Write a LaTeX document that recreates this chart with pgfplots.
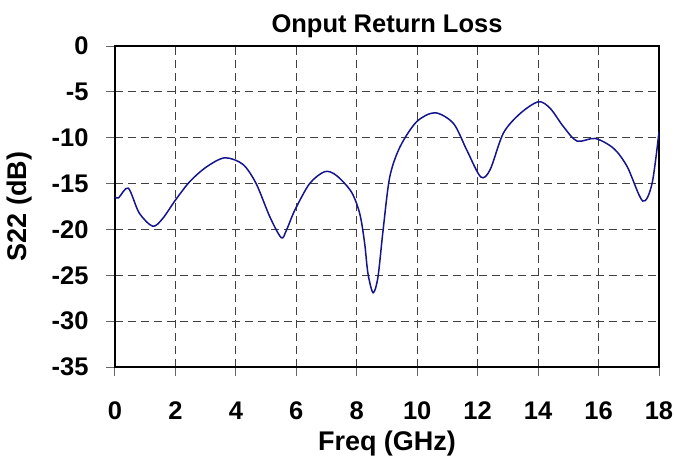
\documentclass[border=0pt]{standalone}
\usepackage{pgfplots}
\pgfplotsset{compat=1.18}
\usepackage{fontspec}
\setmainfont{Liberation Sans}
\definecolor{curve}{RGB}{20,20,140}
\begin{document}
\begin{tikzpicture}
\useasboundingbox (-115pt,-89pt) rectangle (560pt,367pt);
\begin{axis}[
  at={(0pt,0pt)}, anchor=south west,
  scale only axis, width=544pt, height=321pt,
  xmin=0, xmax=18, ymin=-35, ymax=0,
  xtick={0,2,...,18}, ytick={-35,-30,...,0},
  xtick pos=left, ytick pos=left,
  tick align=outside, major tick length=9pt,
  every tick/.style={black!60, line width=1pt},
  axis line style={black, line width=1.6pt},
  grid=major,
  major grid style={black!75, line width=1pt, dash pattern=on 8pt off 5pt},
  /pgf/number format/assume math mode=true,
  ticklabel style={font=\fontsize{25.5}{25.5}\selectfont\bfseries},
  xticklabel style={yshift=-22pt},
  yticklabel style={xshift=-14pt},
  title={Onput Return Loss},
  every axis title/.style={font=\fontsize{25.5}{25.5}\selectfont\bfseries, at={(axis description cs:0.5,1)}, anchor=center, yshift=20pt},
  xlabel={Freq (GHz)},
  every axis x label/.style={font=\fontsize{27}{27}\selectfont\bfseries, at={(axis description cs:0.5,-0.237)}, anchor=center},
  ylabel={S22 (dB)},
  every axis y label/.style={font=\fontsize{27}{27}\selectfont\bfseries, at={(axis description cs:-0.175,0.5)}, anchor=center, rotate=90},
]
\addplot[curve, line width=1.5pt, smooth, tension=0.5] coordinates {
(0,-16.45) (0.12,-16.55) (0.44,-15.5) (0.8,-18.2) (1.25,-19.65) (1.58,-18.8)
(2.0,-16.8) (2.47,-14.8) (3.02,-13.2) (3.63,-12.19) (4.23,-12.9) (4.67,-15.0)
(5.12,-18.6) (5.5,-20.9) (5.67,-20.1) (5.95,-17.9) (6.44,-15.0) (6.94,-13.7)
(7.32,-14.1) (7.82,-15.9) (8.1,-18.3) (8.26,-21.5) (8.37,-24.8) (8.54,-26.9)
(8.7,-25.2) (8.87,-20.1) (9.09,-14.3) (9.43,-11.0) (9.98,-8.26) (10.59,-7.28)
(11.2,-8.45) (11.64,-11.35) (12.1,-14.27) (12.41,-13.5) (12.85,-9.5) (13.41,-7.35)
(14.01,-6.08) (14.4,-6.8) (14.84,-8.8) (15.29,-10.37) (15.89,-10.08) (16.5,-11.17)
(16.95,-13.17) (17.46,-16.9) (17.77,-15.0) (18.0,-9.35)
};
\end{axis}
\end{tikzpicture}
\end{document}
